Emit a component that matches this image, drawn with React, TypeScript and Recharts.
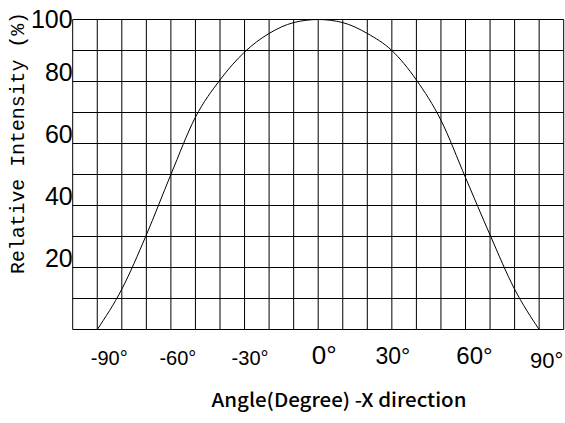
import { LineChart, Line, XAxis, YAxis, CartesianGrid } from 'recharts';

const angles = [-90, -80, -70, -60, -50, -40, -30, -20, -10, 0, 10, 20, 30, 40, 50, 60, 70, 80, 90];
const intensity = [0, 13, 30.5, 50, 68.5, 80.5, 89.5, 95.5, 99, 100, 99, 95.5, 90, 80.5, 67.5, 49, 30.5, 13, 0];

const xTicks = [-100, -90, -80, -70, -60, -50, -40, -30, -20, -10, 0, 10, 20, 30, 40, 50, 60, 70, 80, 90, 100];
const yTicks = [0, 10, 20, 30, 40, 50, 60, 70, 80, 90, 100];
const xLabels = [-90, -60, -30, 0, 30, 60, 90];
const yLabels = [20, 40, 60, 80, 100];

const data = angles.map((a, i) => ({ angle: a, value: intensity[i] }));

// the original labels are not uniform in size / placement
const xLabelStyle: Record<number, { size: number; dx: number; dy: number }> = {
  [-90]: { size: 20, dx: 12, dy: 35 },
  [-60]: { size: 20, dx: 7, dy: 35 },
  [-30]: { size: 20, dx: 5.5, dy: 35 },
  0: { size: 26, dx: 6, dy: 34.5 },
  30: { size: 23, dx: 1, dy: 34.5 },
  60: { size: 24, dx: 9, dy: 34.5 },
  90: { size: 22, dx: 7.5, dy: 38.5 },
};

const XTick = (props: any) => {
  const { x, y, payload } = props;
  if (!xLabels.includes(payload.value)) return null;
  const s = xLabelStyle[payload.value];
  return (
    <text x={x + s.dx} y={y + s.dy} textAnchor="middle" fontFamily="'Liberation Sans', Arial, sans-serif" fontSize={s.size} fill="#000">
      {payload.value}°
    </text>
  );
};

const YTick = (props: any) => {
  const { x, y, payload } = props;
  if (!yLabels.includes(payload.value)) return null;
  const top = payload.value === 100;
  return (
    <text x={x} y={top ? y + 8.5 : y - 1} textAnchor="end" fontFamily="'Liberation Sans', Arial, sans-serif" fontSize={25} fill="#000">
      {payload.value}
    </text>
  );
};

export default function App() {
  return (
    <div style={{ position: 'absolute', left: 0, top: 0, background: '#fff' }}>
      <LineChart width={565} height={423} data={data} margin={{ top: 19.5, right: 1.3, bottom: 0, left: 0 }}>
        <CartesianGrid stroke="#000" strokeWidth={1} />
        <XAxis
          dataKey="angle"
          type="number"
          domain={[-100, 100]}
          ticks={xTicks}
          interval={0}
          height={93.5}
          axisLine={false}
          tickLine={false}
          tickSize={0}
          tickMargin={0}
          tick={<XTick />}
          label={{
            content: () => (
              <text x={339} y={407} textAnchor="middle" fontFamily="'Noto Sans CJK SC', sans-serif" fontWeight={500} fontSize={19} fill="#000" textLength={255} lengthAdjust="spacingAndGlyphs">
                Angle(Degree) -X direction
              </text>
            ),
          }}
        />
        <YAxis
          type="number"
          domain={[0, 100]}
          ticks={yTicks}
          interval={0}
          width={72.7}
          axisLine={false}
          tickLine={false}
          tickSize={0}
          tickMargin={0}
          tick={<YTick />}
          label={{
            content: () => (
              <text x={24} y={143} transform="rotate(-90 24 143)" textAnchor="middle" fontFamily="'Liberation Mono', 'DejaVu Sans Mono', monospace" fontSize={20} fill="#000" textLength={262} lengthAdjust="spacingAndGlyphs">
                Relative Intensity (%)
              </text>
            ),
          }}
        />
        <Line type="monotone" dataKey="value" stroke="#000" strokeWidth={1} dot={false} isAnimationActive={false} />
      </LineChart>
    </div>
  );
}
